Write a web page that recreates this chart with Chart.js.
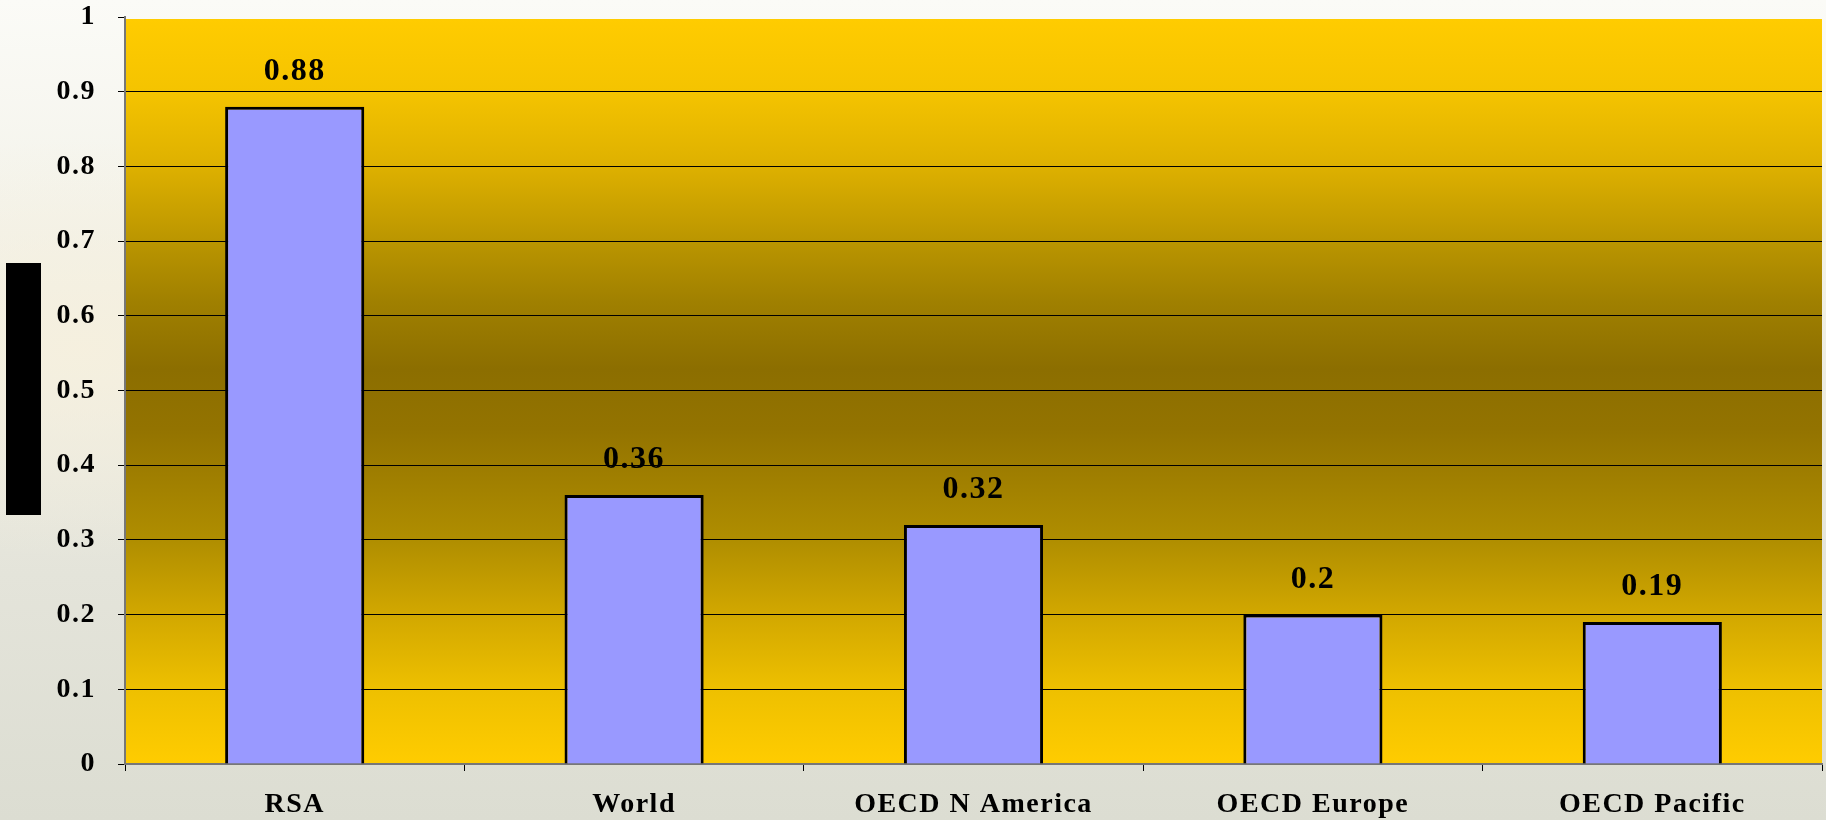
<!DOCTYPE html>
<html>
<head>
<meta charset="utf-8">
<script src="https://cdn.jsdelivr.net/npm/chart.js@4/dist/chart.umd.min.js"></script>
<style>
  html, body { margin: 0; padding: 0; }
  body {
    width: 1826px; height: 820px; overflow: hidden;
    background:
      radial-gradient(ellipse 500px 300px at 80px 350px, rgba(246,240,222,0.9), rgba(246,240,222,0) 70%),
      linear-gradient(to bottom, #fbfbf7 0%, #f1f0e6 35%, #e4e4da 70%, #dcddd2 100%);
  }
  #wrap { position: relative; width: 1826px; height: 820px; }
</style>
</head>
<body>
<div id="wrap"><canvas id="chart" width="1826" height="820"></canvas></div>
<script>
// Regions and their values
const categories = ['RSA', 'World', 'OECD N America', 'OECD Europe', 'OECD Pacific'];
const values = [0.88, 0.36, 0.32, 0.2, 0.19];
// Value axis ticks
const yTickValues = [0, 0.1, 0.2, 0.3, 0.4, 0.5, 0.6, 0.7, 0.8, 0.9, 1];
const yTickLabels = ['0', '0.1', '0.2', '0.3', '0.4', '0.5', '0.6', '0.7', '0.8', '0.9', '1'];

const serif = '"Liberation Serif", "Times New Roman", serif';

// Gold band behind the bars, darkest a little above the middle
const plotBackground = {
  id: 'plotBackground',
  beforeDraw(chart) {
    const { ctx, chartArea: a } = chart;
    const top = a.top + 2;
    const g = ctx.createLinearGradient(0, top, 0, a.bottom);
    g.addColorStop(0.00, '#FFCC00');
    g.addColorStop(0.10, '#F4C300');
    g.addColorStop(0.20, '#DDB000');
    g.addColorStop(0.30, '#BA9500');
    g.addColorStop(0.38, '#A08000');
    g.addColorStop(0.47, '#8C6E00');
    g.addColorStop(0.55, '#937300');
    g.addColorStop(0.70, '#B08E00');
    g.addColorStop(0.80, '#D2A800');
    g.addColorStop(0.90, '#EEC000');
    g.addColorStop(1.00, '#FFCC00');
    ctx.save();
    ctx.fillStyle = g;
    ctx.fillRect(a.left, top, a.right - a.left, a.bottom - top);
    // dark block standing in for the axis title
    ctx.fillStyle = '#000';
    ctx.fillRect(6, 263, 35, 252);
    ctx.restore();
    ctx.letterSpacing = '1.5px';
  }
};

// Value written above each bar
const barValues = {
  id: 'barValues',
  afterDatasetsDraw(chart) {
    const { ctx } = chart;
    const meta = chart.getDatasetMeta(0);
    const data = chart.data.datasets[0].data;
    ctx.save();
    ctx.font = 'bold 32px ' + serif;
    ctx.letterSpacing = '1.5px';
    ctx.fillStyle = '#000';
    ctx.textAlign = 'center';
    ctx.textBaseline = 'alphabetic';
    meta.data.forEach((bar, i) => {
      ctx.fillText(String(data[i]), bar.x, bar.y - 27);
    });
    ctx.restore();
  }
};

new Chart(document.getElementById('chart'), {
  type: 'bar',
  data: {
    labels: categories,
    datasets: [{
      data: values,
      backgroundColor: '#9999FF',
      borderColor: '#000000',
      borderWidth: 3,
      barPercentage: 0.41,
      categoryPercentage: 1.0
    }]
  },
  options: {
    responsive: false,
    devicePixelRatio: 1,
    animation: false,
    layout: { padding: { top: 17, right: 4, left: 0, bottom: 0 } },
    plugins: {
      legend: { display: false },
      tooltip: { enabled: false }
    },
    scales: {
      x: {
        offset: true,
        afterFit(scale) { scale.height = 56; },
        grid: {
          offset: true,
          drawOnChartArea: false,
          drawTicks: true,
          tickLength: 7,
          tickColor: '#000',
          tickWidth: 1
        },
        border: { display: true, color: '#777', width: 2 },
        ticks: {
          color: '#000',
          font: { family: serif, size: 28, weight: 'bold' },
          padding: 17,
          maxRotation: 0,
          autoSkip: false
        }
      },
      y: {
        min: 0,
        max: 1,
        afterFit(scale) {
          scale.width = 125;
          scale.paddingTop = 0;
          scale.paddingBottom = 0;
        },
        afterBuildTicks(scale) {
          scale.ticks = yTickValues.map(v => ({ value: v }));
        },
        grid: {
          color: ctx => (ctx.tick && (ctx.tick.value === 0 || ctx.tick.value === 1)) ? 'rgba(0,0,0,0)' : '#000',
          lineWidth: 1,
          tickLength: 7,
          tickColor: '#000',
          tickWidth: 1
        },
        border: { display: true, color: '#777', width: 2 },
        ticks: {
          color: '#000',
          font: { family: serif, size: 28, weight: 'bold' },
          padding: 22,
          callback: (v, i) => yTickLabels[i]
        }
      }
    }
  },
  plugins: [plotBackground, barValues]
});
</script>
</body>
</html>
